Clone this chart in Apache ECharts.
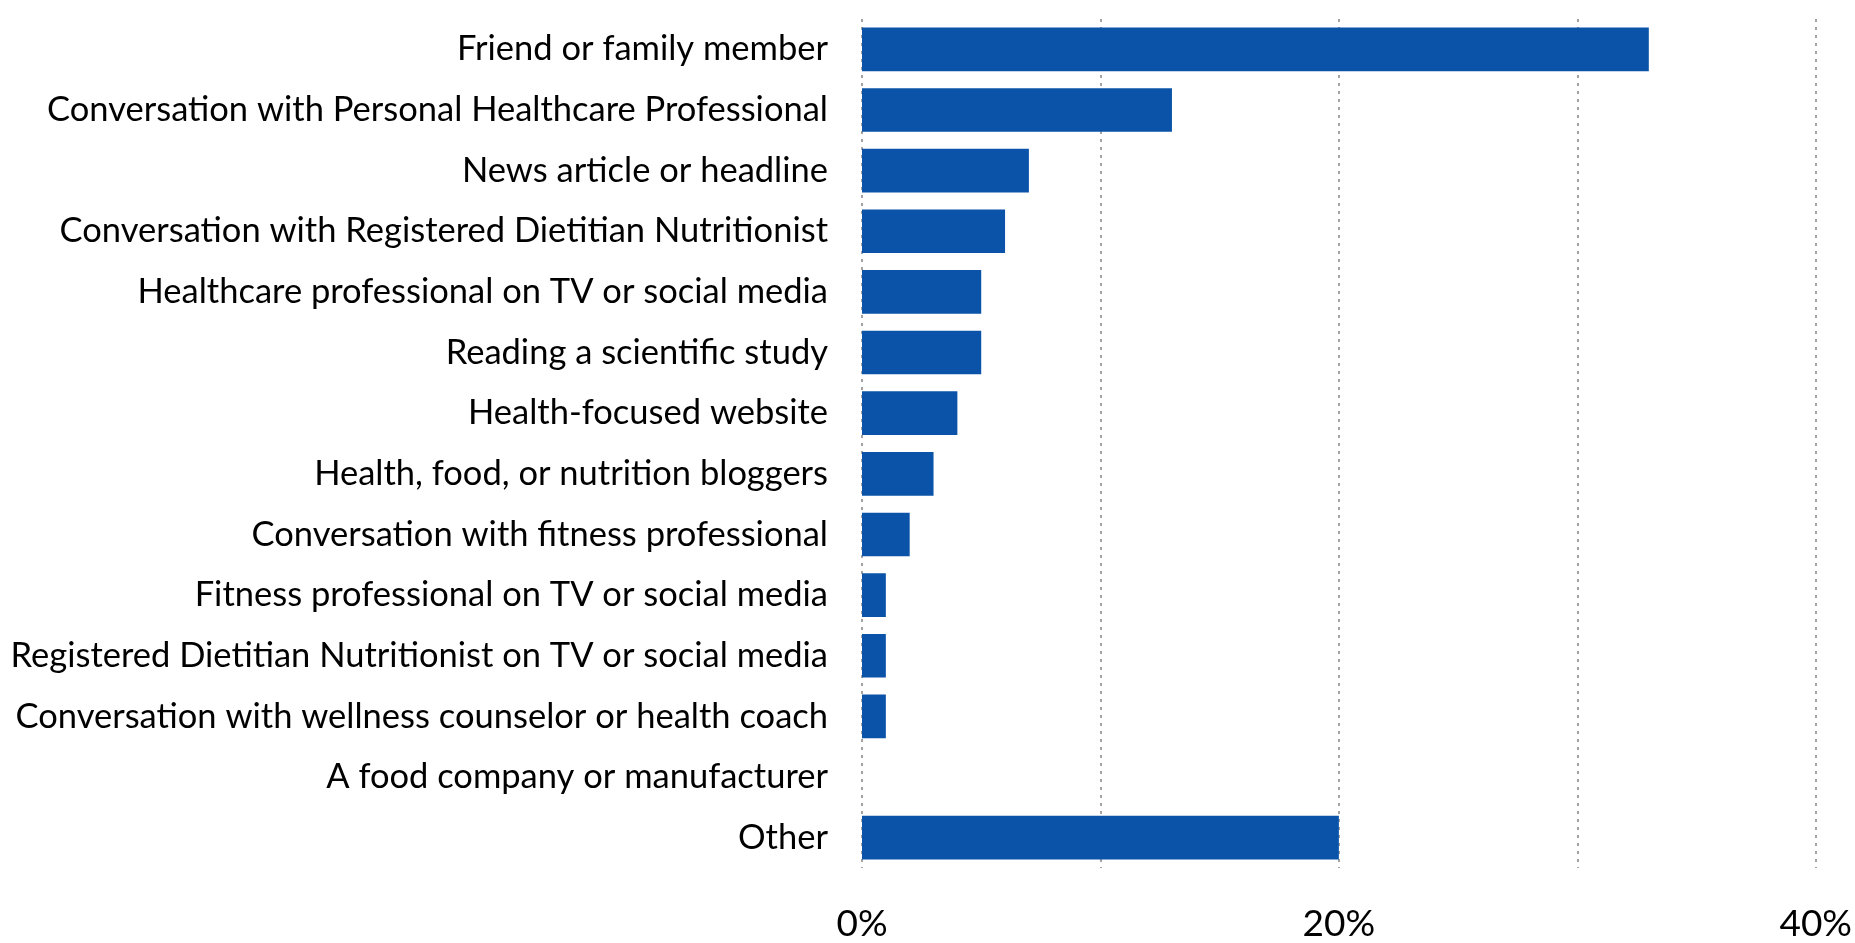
<!DOCTYPE html>
<html>
<head>
<meta charset="utf-8">
<title>Sources of nutrition information</title>
<script src="https://cdn.jsdelivr.net/npm/echarts@6/dist/echarts.min.js"></script>
<style>
  html, body { margin: 0; padding: 0; background: #ffffff; }
  #chart { width: 1855px; height: 943px; }
</style>
</head>
<body>
<div id="chart"></div>
<script>
// Categories, top to bottom
const categories = [
  'Friend or family member',
  'Conversation with Personal Healthcare Professional',
  'News article or headline',
  'Conversation with Registered Dietitian Nutritionist',
  'Healthcare professional on TV or social media',
  'Reading a scientific study',
  'Health-focused website',
  'Health, food, or nutrition bloggers',
  'Conversation with fitness professional',
  'Fitness professional on TV or social media',
  'Registered Dietitian Nutritionist on TV or social media',
  'Conversation with wellness counselor or health coach',
  'A food company or manufacturer',
  'Other'
];

// Share of respondents (%)
const shares = [33, 13, 7, 6, 5, 5, 4, 3, 2, 1, 1, 1, 0, 20];

// Value axis ticks (%)
const axisMin = 0;
const axisMax = 40;
const axisStep = 20;

const labelFont = 'Lato, "Liberation Sans", sans-serif';

const chart = echarts.init(document.getElementById('chart'), null, { renderer: 'canvas' });

chart.setOption({
  animation: false,
  backgroundColor: '#ffffff',
  grid: { left: 862, right: 38, top: 19, bottom: 70, containLabel: false },
  xAxis: {
    type: 'value',
    min: axisMin,
    max: axisMax,
    interval: axisStep,
    axisLine: { show: false },
    axisTick: { show: false },
    axisLabel: {
      formatter: '{value}%',
      color: '#000000',
      fontSize: 37,
      fontFamily: labelFont,
      margin: 38
    },
    splitLine: {
      show: true,
      lineStyle: { color: '#a3a3a3', width: 2, type: [3, 5] }
    },
    minorTick: { show: false, splitNumber: 2 },
    minorSplitLine: {
      show: true,
      lineStyle: { color: '#a3a3a3', width: 2, type: [3, 5] }
    }
  },
  yAxis: {
    type: 'category',
    data: categories,
    inverse: true,
    axisLine: { show: false },
    axisTick: { show: false },
    splitLine: { show: false },
    axisLabel: {
      color: '#000000',
      fontSize: 34.5,
      fontFamily: labelFont,
      margin: 34
    }
  },
  series: [{
    type: 'bar',
    data: shares,
    barCategoryGap: '28%',
    itemStyle: { color: '#0a53a8' }
  }]
});
</script>
</body>
</html>
